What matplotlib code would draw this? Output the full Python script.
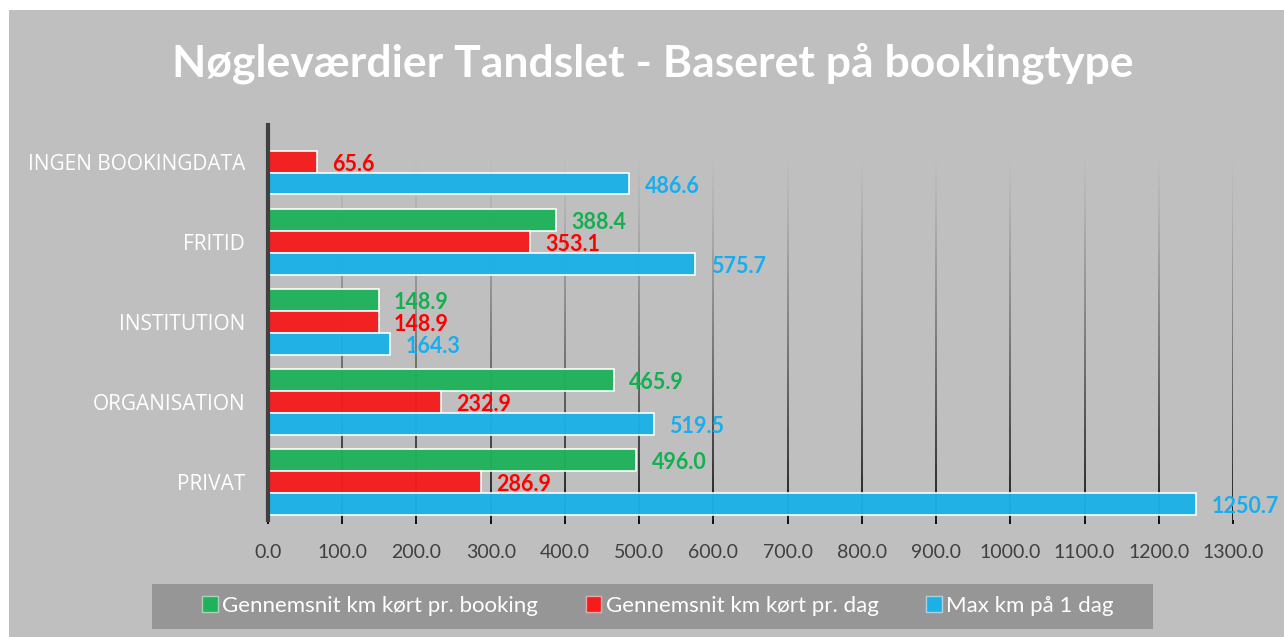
import numpy as np
import matplotlib.pyplot as plt
from matplotlib.collections import LineCollection
from matplotlib.patches import Rectangle
import matplotlib.transforms as mtransforms

# data, bottom category first
categories = ['PRIVAT', 'ORGANISATION', 'INSTITUTION', 'FRITID', 'INGEN BOOKINGDATA']
avg_booking = [496.0, 465.9, 148.9, 388.4, np.nan]
avg_day = [286.9, 232.9, 148.9, 353.1, 65.6]
max_day = [1250.7, 519.5, 164.3, 575.7, 486.6]
series_names = ['Gennemsnit km kørt pr. booking', 'Gennemsnit km kørt pr. dag', 'Max km på 1 dag']
x_ticks = np.arange(0, 1301, 100)

bar_cols = ['#1eb25a', '#f51c1c', '#1bb1e7']
lbl_cols = ['#12b04f', '#ff0000', '#17aef0']
bg = '#bfbfbf'

fig = plt.figure(figsize=(12.84, 6.37), dpi=100)
fig.patch.set_facecolor('white')
fig.patches.append(Rectangle((9/1284, 0), 1, 1 - 10/637, transform=fig.transFigure,
                             facecolor=bg, edgecolor='none', zorder=-10))

W, H = 1284, 637
ax = fig.add_axes([268/W, 1 - 520/H, (1233 - 268)/W, (520 - 125)/H])
ax.set_facecolor('none')
ax.set_xlim(0, 1300)
ax.set_ylim(-0.475, 4.46)

# gradient grid lines
tr = mtransforms.blended_transform_factory(ax.transData, ax.transAxes)
nseg = 60
ys = np.linspace(0, 0.93, nseg + 1)
for xv in x_ticks[1:]:
    segs = [[(xv, ys[i]), (xv, ys[i + 1])] for i in range(nseg)]
    alphas = np.linspace(1, 0, nseg) ** 1.3
    cols = [(0, 0, 0, a) for a in alphas]
    ax.add_collection(LineCollection(segs, colors=cols, linewidths=1.2, transform=tr, zorder=1))

y = np.arange(len(categories))
bh = 0.272
offs = [bh, 0, -bh]
for vals, off, bc, lc in zip([avg_booking, avg_day, max_day], offs, bar_cols, lbl_cols):
    bars = ax.barh(y + off, vals, height=bh, color=bc, alpha=0.96,
                   edgecolor=(1, 1, 1, 0.45), linewidth=1.2, zorder=2)
    for yy, v in zip(y + off, vals):
        if np.isnan(v):
            continue
        ax.annotate(f'{v:.1f}', (v, yy), xytext=(11, -2), textcoords='offset points',
                    ha='left', va='center', color=lc, fontsize=15.5, fontweight='bold',
                    family='Lato', annotation_clip=False, zorder=3)

for s in ['top', 'right', 'bottom']:
    ax.spines[s].set_visible(False)
ax.spines['left'].set_color('#404040')
ax.spines['left'].set_linewidth(3)
ax.spines['left'].set_zorder(4)

ax.set_xticks(x_ticks)
ax.set_xticklabels([f'{t:.1f}' for t in x_ticks], family='Lato', fontsize=14, color='#404040')
ax.tick_params(axis='x', length=3, width=1.3, color='black', pad=14)
ax.set_yticks(y)
ax.set_yticklabels(categories, family='Open Sans', fontsize=15, color='white')
ax.tick_params(axis='y', length=0, pad=16.5)

fig.text(0.508, 1 - 63/H, 'Nøgleværdier Tandslet - Baseret på bookingtype',
         ha='center', va='center', color='white', fontsize=32, fontweight='bold', family='Lato')

# legend box
fig.patches.append(Rectangle((152/W, 1 - 629/H), (1153 - 152)/W, 45/H, transform=fig.transFigure,
                             facecolor='#969696', edgecolor='none', zorder=-5))
handles = [Rectangle((0, 0), 1, 1, facecolor=c, edgecolor=(1, 1, 1, 0.5), linewidth=1) for c in bar_cols]
leg = fig.legend(handles, series_names, loc='center', bbox_to_anchor=(658/W, 1 - 606/H),
                 ncol=3, frameon=False, handlelength=0.7, handleheight=0.7, handletextpad=0.2,
                 columnspacing=2.15, prop={'family': 'Lato', 'size': 16})
for t in leg.get_texts():
    t.set_color('white')

fig.savefig('out.png', dpi=100, facecolor=fig.get_facecolor())
